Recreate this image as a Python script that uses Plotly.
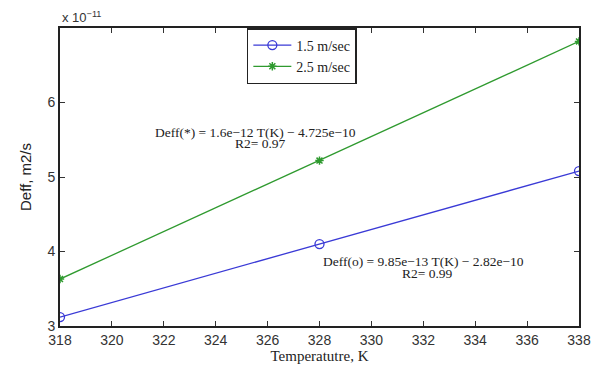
import plotly.graph_objects as go

temps = [318, 328, 338]
deff_15 = [3.12, 4.10, 5.08]   # x 1e-11 m2/s, 1.5 m/sec
deff_25 = [3.63, 5.22, 6.82]   # x 1e-11 m2/s, 2.5 m/sec
x_ticks = list(range(318, 339, 2))
y_ticks = [3, 4, 5, 6]

blue = "#3a3ad6"
green = "#2f9a2f"
serif = "Liberation Serif"
sans = "Liberation Sans"

fig = go.Figure()
fig.add_trace(go.Scatter(
    x=temps, y=deff_15, mode="lines+markers", name="1.5 m/sec",
    line=dict(color=blue, width=1.3),
    marker=dict(symbol="circle-open", size=9, color=blue, line=dict(width=1.3)),
))
fig.add_trace(go.Scatter(
    x=temps, y=deff_25, mode="lines+markers", name="2.5 m/sec",
    line=dict(color=green, width=1.3),
    marker=dict(symbol="asterisk-open", size=7, color=green, line=dict(width=1.5, color=green)),
))

axis_common = dict(
    showline=True, linecolor="#222", linewidth=2, mirror="ticks",
    ticks="inside", ticklen=5, tickcolor="#333", tickwidth=1,
    showgrid=False, zeroline=False, automargin=False,
    tickfont=dict(family=sans, size=14, color="#333"),
)

fig.update_layout(
    width=595, height=372,
    margin=dict(l=60, r=16, t=28, b=46),
    paper_bgcolor="white", plot_bgcolor="white",
    xaxis=dict(range=[318, 338], tickvals=x_ticks,
               title=dict(text="Temperatutre, K", font=dict(family=serif, size=15, color="#222"), standoff=4),
               **axis_common),
    yaxis=dict(range=[3, 7], tickvals=y_ticks,
               title=dict(text="Deff, m2/s", font=dict(family=sans, size=15, color="#222"), standoff=12),
               **axis_common),
    legend=dict(x=0.36, y=1.0, xanchor="left", yanchor="top",
                bgcolor="white", bordercolor="#222", borderwidth=1.5,
                font=dict(family=serif, size=14, color="#222"),
                tracegroupgap=0, itemwidth=38),
    showlegend=True,
)

fig.add_annotation(xref="paper", yref="paper", x=0.0, y=1.0, xanchor="left", yanchor="bottom",
                   text="x 10<sup>−11</sup>", showarrow=False,
                   font=dict(family=sans, size=13, color="#333"), yshift=1)

eq_font = dict(family=serif, size=13.5, color="#222")
annotations = [
    (325.53, 5.60, "Deff(*) = 1.6e−12 T(K) − 4.725e−10"),
    (325.71, 5.45, "R2= 0.97"),
    (331.99, 3.87, "Deff(o) = 9.85e−13 T(K) − 2.82e−10"),
    (332.18, 3.71, "R2= 0.99"),
]
for ax, ay, txt in annotations:
    fig.add_annotation(xref="x", yref="y", x=ax, y=ay, xanchor="center", yanchor="middle",
                       text=txt, showarrow=False, font=eq_font)

fig.write_html(
    "out.html",
    config={"displayModeBar": False},
    post_script="document.body.style.margin='0';document.body.style.overflow='hidden';",
)
